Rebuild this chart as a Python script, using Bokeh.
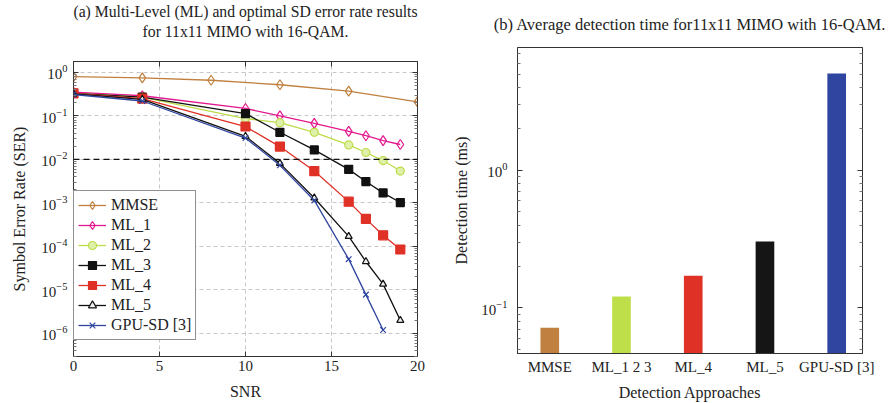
from bokeh.plotting import figure
from bokeh.layouts import row, column
from bokeh.models import (Range1d, FixedTicker, LinearAxis, LogAxis, Span,
                          CustomJSTickFormatter, LogTickFormatter)
from bokeh.embed import file_html
from bokeh.resources import INLINE

# ---------------- data (a) ----------------
snr_mmse = [0, 4, 8, 12, 16, 20]
ser_mmse = [0.80, 0.75, 0.66, 0.52, 0.37, 0.21]

snr_ml = [0, 4, 10, 12, 14, 16, 17, 18, 19]
ser_ml1 = [0.35, 0.29, 0.148, 0.100, 0.067, 0.044, 0.035, 0.027, 0.022]
ser_ml2 = [0.33, 0.27, 0.087, 0.070, 0.042, 0.0215, 0.0144, 0.0094, 0.0054]
ser_ml3 = [0.33, 0.27, 0.113, 0.042, 0.0165, 0.0059, 0.0031, 0.0017, 0.00102]
ser_ml4 = [0.33, 0.25, 0.057, 0.0197, 0.0054, 0.00107, 0.00043, 0.00018, 0.000085]
ser_ml5 = [0.32, 0.24, 0.034, 0.0081, 0.0013, 0.00017, 0.000045, 0.0000136, 0.0000020]

snr_gpu = [0, 4, 10, 12, 14, 16, 17, 18]
ser_gpu = [0.31, 0.22, 0.031, 0.0073, 0.00114, 0.000051, 0.0000078, 0.0000012]

ser_target = 1e-2
x_ticks = [0, 5, 10, 15, 20]

# ---------------- data (b) ----------------
approaches = ["MMSE", "ML_1 2 3", "ML_4", "ML_5", "GPU-SD [3]"]
det_time_ms = [0.0716, 0.121, 0.171, 0.303, 5.05]
bar_colors = ["#c0803f", "#bfdf4a", "#e03126", "#151515", "#2f45a0"]

title_a1 = "(a) Multi-Level (ML) and optimal SD error rate results"
title_a2 = "for 11x11 MIMO with 16-QAM."
title_b = "(b) Average detection time for11x11 MIMO with 16-QAM."

FONT = "Liberation Serif"

def decades(lo, hi):
    return [10.0 ** e for e in range(lo, hi + 1)]

def minors(lo, hi):
    return [k * 10.0 ** e for e in range(lo, hi + 1) for k in range(2, 10)]

def blank():
    return CustomJSTickFormatter(code="return '';")

def style_axis(ax, size="15px", lsize="16px"):
    ax.major_tick_in = 5
    ax.major_tick_out = 0
    ax.minor_tick_in = 3
    ax.minor_tick_out = 0
    ax.axis_line_color = "#333333"
    ax.major_tick_line_color = "#333333"
    ax.minor_tick_line_color = "#777777"
    ax.major_label_text_font = FONT
    ax.major_label_text_font_size = size
    ax.major_label_text_color = "#222222"
    ax.axis_label_text_font = FONT
    ax.axis_label_text_font_size = lsize
    ax.axis_label_text_font_style = "normal"
    ax.axis_label_text_color = "#222222"

def style_title(t, text, standoff, size):
    t.text = text
    t.align = "center"
    t.text_font = FONT
    t.text_font_size = size
    t.text_font_style = "normal"
    t.text_color = "#222222"
    t.standoff = standoff

# ================= figure (a) =================
p1 = figure(width=450, height=403, x_range=Range1d(0, 20),
            y_range=Range1d(10 ** -6.53, 10 ** 0.25), y_axis_type="log",
            output_backend="svg", toolbar_location=None,
            min_border_left=73, min_border_right=33, min_border_top=61, min_border_bottom=47)
p1.outline_line_color = "#333333"

yt1 = FixedTicker(ticks=decades(-7, 0), minor_ticks=minors(-7, 0))
xt1 = FixedTicker(ticks=x_ticks, minor_ticks=[])
p1.xaxis.ticker = xt1
p1.yaxis.ticker = yt1
p1.yaxis.formatter = LogTickFormatter()
p1.xaxis.axis_label = "SNR"
p1.yaxis.axis_label = "Symbol Error Rate (SER)"
for ax in p1.xaxis + p1.yaxis:
    style_axis(ax)
p1.xaxis.major_label_standoff = 4
p1.xaxis.axis_label_standoff = 9
p1.yaxis.major_label_standoff = 6
p1.yaxis.axis_label_standoff = 10

# mirrored axes; the top one carries the second title line as its label
top1 = LinearAxis(ticker=xt1, formatter=blank(), major_label_standoff=0)
right1 = LogAxis(ticker=yt1, formatter=blank(), major_label_standoff=0)
style_axis(top1, lsize="15.7px")
style_axis(right1)
top1.axis_label = title_a2
top1.axis_label_standoff = 22
p1.add_layout(top1, "above")
p1.add_layout(right1, "right")

style_title(p1.title, title_a1, 0, "15.7px")

p1.xgrid.grid_line_color = "#c8c8c8"
p1.xgrid.grid_line_dash = "4 3"
p1.ygrid.grid_line_color = "#c8c8c8"
p1.ygrid.grid_line_dash = "4 3"

p1.add_layout(Span(location=ser_target, dimension="width", line_color="#111111",
                   line_dash="6 4", line_width=1.3))

series = [
    ("MMSE", snr_mmse, ser_mmse, "#c0803f", "diamond", 10, None),
    ("ML_1", snr_ml, ser_ml1, "#e3178e", "diamond", 10, None),
    ("ML_2", snr_ml, ser_ml2, "#bcdc48", "circle", 8, "#dff0a8"),
    ("ML_3", snr_ml, ser_ml3, "#111111", "square", 8, "#111111"),
    ("ML_4", snr_ml, ser_ml4, "#e03126", "square", 9, "#e03126"),
    ("ML_5", snr_ml, ser_ml5, "#111111", "triangle", 7, "#eeeeee"),
    ("GPU-SD [3]", snr_gpu, ser_gpu, "#2f45a0", "x", 8, None),
]
for name, xs, ys, col, mk, sz, fill in series:
    p1.line(xs, ys, line_color=col, line_width=1.3, legend_label=name)
    p1.scatter(xs, ys, marker=mk, size=sz, line_color=col, line_width=1.2,
               fill_color=fill, legend_label=name)

lg = p1.legend[0]
lg.location = (0, 16)
lg.border_line_color = "#222222"
lg.border_line_width = 1
lg.background_fill_color = "white"
lg.background_fill_alpha = 1
lg.margin = 0
lg.padding = 4
lg.spacing = 0
lg.glyph_width = 28
lg.glyph_height = 20
lg.label_height = 20
lg.label_standoff = 5
lg.label_text_font = FONT
lg.label_text_font_size = "16px"
lg.label_text_color = "#222222"

# ================= figure (b) =================
xpos = list(range(len(approaches)))
p2 = figure(width=443, height=403, x_range=Range1d(-0.45, 4.36),
            y_range=Range1d(0.0466, 7.8), y_axis_type="log",
            output_backend="svg", toolbar_location=None,
            min_border_left=67, min_border_right=31, min_border_top=47, min_border_bottom=50)
p2.outline_line_color = "#333333"
style_title(p2.title, title_b, 26, "16.5px")
p2.title.vertical_align = "middle"

p2.vbar(x=xpos, top=det_time_ms, bottom=0.001, width=0.26, fill_color=bar_colors,
        line_color=None)

yt2 = FixedTicker(ticks=decades(-2, 1), minor_ticks=minors(-2, 1))
p2.yaxis.ticker = yt2
p2.yaxis.formatter = LogTickFormatter()
p2.xaxis.ticker = FixedTicker(ticks=xpos, minor_ticks=[])
p2.xaxis.major_label_overrides = {i: a for i, a in zip(xpos, approaches)}
p2.xaxis.axis_label = "Detection Approaches"
p2.yaxis.axis_label = "Detection time (ms)"
for ax in p2.xaxis + p2.yaxis:
    style_axis(ax)
p2.xaxis.major_tick_in = 0
p2.xaxis.major_label_standoff = 5
p2.xaxis.axis_label_standoff = 6
p2.yaxis.major_label_standoff = 10
p2.yaxis.axis_label_standoff = 8
right2 = LogAxis(ticker=yt2, formatter=blank(), major_label_standoff=0)
style_axis(right2)
p2.add_layout(right2, "right")
p2.xgrid.visible = False
p2.ygrid.visible = False

layout = row(column(p1), column(p2))
open("out.html", "w").write(file_html(layout, INLINE))
